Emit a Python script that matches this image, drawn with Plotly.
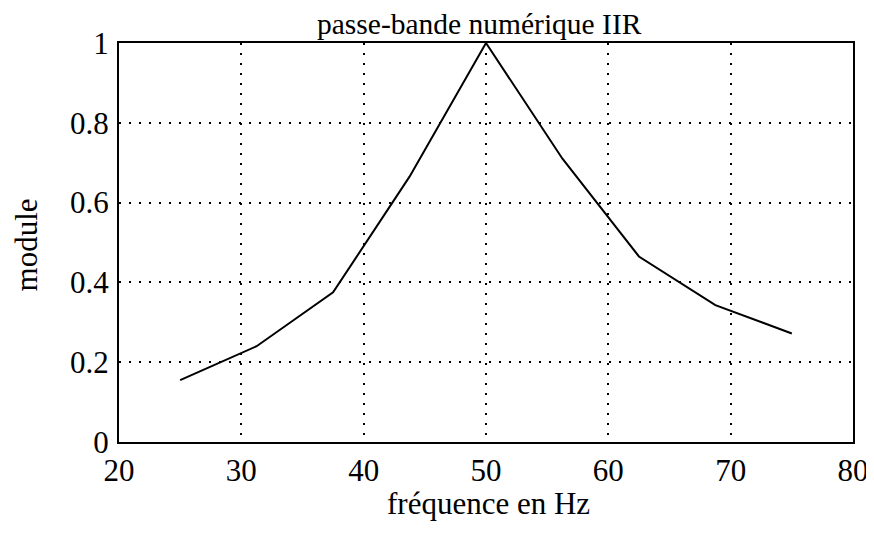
import plotly.graph_objects as go

freq = [25, 31.25, 37.5, 43.75, 50, 56.25, 62.5, 68.75, 75]
module = [0.155, 0.24, 0.375, 0.665, 1.0, 0.71, 0.465, 0.343, 0.272]
x_ticks = [20, 30, 40, 50, 60, 70, 80]
y_ticks = [0, 0.2, 0.4, 0.6, 0.8, 1]
y_tick_text = ["0", "0.2", "0.4", "0.6", "0.8", "1"]

FONT = "Liberation Serif, Times New Roman, serif"
TICK_SIZE = 31
LABEL_SIZE = 31

fig = go.Figure()
fig.add_trace(go.Scatter(x=freq, y=module, mode="lines",
                         line=dict(color="black", width=2),
                         showlegend=False, hoverinfo="skip"))

axis_common = dict(showline=True, linecolor="black", linewidth=2, mirror=True,
                   showgrid=True, gridcolor="black", gridwidth=1.6, griddash="2px,8px",
                   zeroline=False, ticks="", automargin=False,
                   tickfont=dict(family=FONT, size=TICK_SIZE, color="black"))

# the page body has an 8px margin, so the figure is drawn slightly smaller
fig.update_layout(
    width=866, height=526,
    margin=dict(l=111, r=21, t=35, b=92),
    paper_bgcolor="white", plot_bgcolor="white",
    font=dict(family=FONT, color="black"),
    xaxis=dict(range=[20, 80], tickvals=x_ticks, ticklabelstandoff=0, **axis_common),
    yaxis=dict(range=[0, 1], tickvals=y_ticks, ticktext=y_tick_text,
               ticklabelstandoff=2, **axis_common),
    annotations=[
        dict(text="passe-bande numérique IIR", xref="paper", yref="paper",
             x=0.4905, y=1.047, xanchor="center", yanchor="middle", showarrow=False,
             font=dict(family=FONT, size=29.5, color="black")),
        dict(text="fréquence en Hz", xref="paper", yref="paper",
             x=0.504, y=-0.153, xanchor="center", yanchor="middle", showarrow=False,
             font=dict(family=FONT, size=LABEL_SIZE, color="black")),
        dict(text="module", xref="paper", yref="paper", textangle=-90,
             x=-0.126, y=0.494, xanchor="center", yanchor="middle", showarrow=False,
             font=dict(family=FONT, size=LABEL_SIZE, color="black")),
    ],
)

fig.write_html("out.html")
